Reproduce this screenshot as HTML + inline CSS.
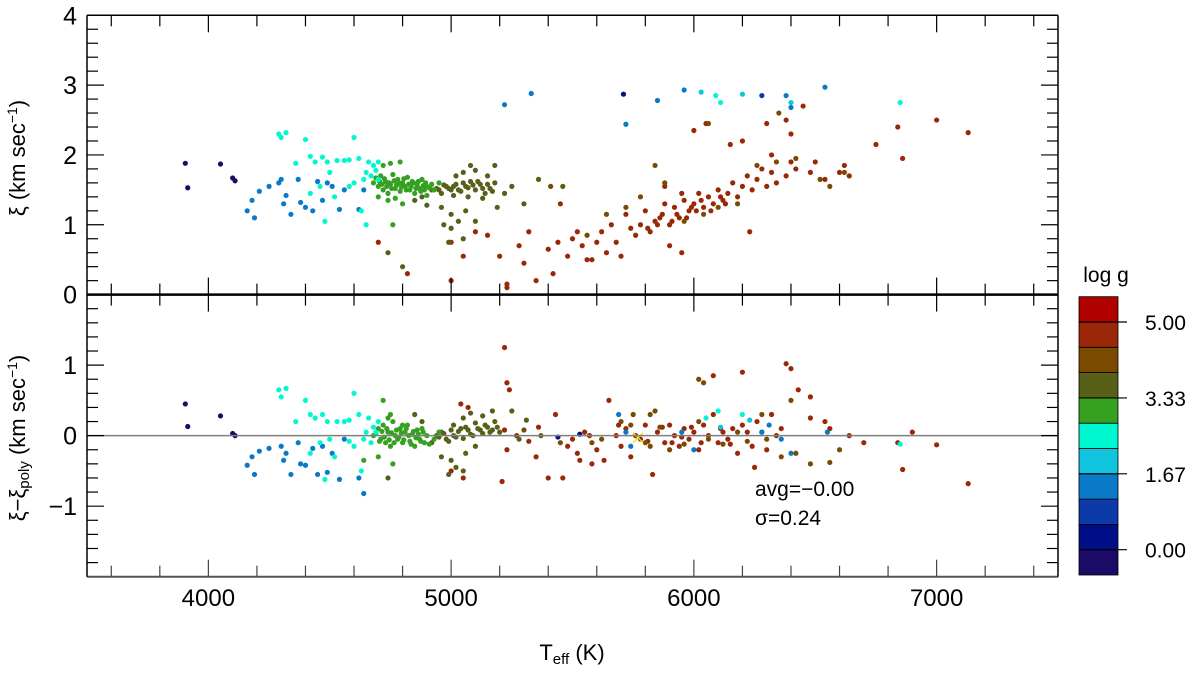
<!DOCTYPE html>
<html><head><meta charset="utf-8"><style>
body{margin:0;background:#fff;}
svg text{font-family:"Liberation Sans",Arial,sans-serif;fill:#000;}
</style></head><body>
<svg id="chart" width="1200" height="669" viewBox="0 0 1200 669" xmlns="http://www.w3.org/2000/svg">
<g id="marks"></g>
<g id="axes"></g>
</svg>
<script>
// ---- data (Teff, value) groups with log g ----
const xTicks = [4000, 5000, 6000, 7000];
const topYTicks = [0, 1, 2, 3, 4];
const botYTicks = [-1, 0, 1];
const cbTicks = ["5.00", "3.33", "1.67", "0.00"];
const cbValues = [5.0, 3.333, 1.667, 0.0];

const topNavy = [[3905,1.88],[3915,1.53],[4050,1.87],[4100,1.67],[4110,1.63]];
const topBlue = [[4160,1.2],[4180,1.35],[4190,1.1],[4210,1.48],[4250,1.55],[4290,1.6],[4300,1.65],[4310,1.3],[4320,1.42],[4340,1.15],[4370,1.65],[4380,1.32],[4400,1.25],[4430,1.2],[4450,1.62],[4470,1.35],[4490,1.6],[4510,1.55],[4540,1.22],[4560,1.5],[4640,1.5],[4620,1.22]];
const topCyan = [[4290,2.3],[4300,2.25],[4320,2.32],[4360,1.88],[4400,2.22],[4420,1.98],[4440,1.9],[4470,1.97],[4490,1.9],[4500,1.75],[4530,1.92],[4560,1.92],[4580,1.93],[4420,1.45],[4460,1.55],[4480,1.05],[4520,1.4],[4580,1.55],[4600,1.6],[4640,1.65],[4600,2.25],[4620,1.95],[4660,1.9],[4680,1.85],[4700,1.9],[4650,1.75],[4670,1.7],[4690,1.78],[4630,1.2],[4650,1.0],[4700,1.65]];
const topGreen = [[4680,1.6],[4700,1.55],[4710,1.7],[4720,1.5],[4730,1.62],[4740,1.45],[4750,1.58],[4760,1.72],[4770,1.52],[4780,1.65],[4790,1.48],[4800,1.6],[4810,1.55],[4820,1.68],[4830,1.5],[4840,1.62],[4850,1.45],[4860,1.58],[4870,1.52],[4880,1.65],[4890,1.5],[4900,1.55],[4720,1.85],[4750,1.88],[4790,1.9],[4700,1.4],[4740,1.35],[4770,1.38],[4800,1.3],[4760,1.0],[4930,1.5],[4950,1.6],[4900,1.42],[4690,1.67],[4705,1.62],[4715,1.58],[4725,1.66],[4735,1.55],[4745,1.6],[4755,1.52],[4765,1.63],[4775,1.57],[4785,1.6],[4795,1.54],[4805,1.66],[4815,1.5],[4825,1.58],[4835,1.55],[4845,1.6],[4855,1.52],[4865,1.62],[4875,1.48],[4885,1.56],[4895,1.6],[4910,1.53],[4920,1.58]];
const topOlive = [[4850,1.35],[4880,1.4],[4900,1.28],[4920,1.5],[4940,1.52],[4960,1.45],[4980,1.55],[5000,1.5],[5020,1.58],[5040,1.48],[5060,1.55],[5080,1.62],[5100,1.5],[5120,1.58],[5140,1.45],[5160,1.52],[5180,1.6],[5020,1.7],[5050,1.75],[5080,1.85],[5100,1.78],[5150,1.7],[5180,1.85],[4960,1.25],[5000,1.15],[5030,1.05],[5060,1.2],[5100,1.05],[5000,0.95],[4970,1.0],[4990,0.75],[5050,0.8],[5190,1.25],[5250,1.55],[5360,1.65],[5460,1.55],[5220,1.45],[5300,1.3],[4740,0.6],[4800,0.4],[4950,1.5],[4970,1.57],[4990,1.52],[5010,1.55],[5030,1.5],[5050,1.6],[5070,1.53],[5090,1.57],[5110,1.62],[5130,1.52],[5150,1.58],[5170,1.48],[5010,1.42],[5070,1.4],[5130,1.38]];
const topBrown = [[5720,1.25],[5780,1.4],[5840,1.85],[5880,1.6],[5960,1.05],[6040,1.15],[6100,1.25],[6180,1.3],[6260,1.85],[6340,1.9],[6420,1.95],[6520,1.65],[6560,1.55],[6620,1.75],[5640,1.15],[5560,0.85],[6060,2.45],[6350,2.6],[5410,1.55]];
const topRed = [[4700,0.75],[4820,0.3],[5000,0.2],[5000,0.75],[5050,0.55],[5100,0.9],[5150,0.85],[5200,0.55],[5230,0.1],[5230,0.15],[5280,0.7],[5300,0.45],[5320,0.9],[5350,0.2],[5400,0.65],[5420,0.3],[5440,0.75],[5450,1.3],[5480,0.55],[5500,0.8],[5520,0.9],[5540,0.7],[5560,0.5],[5580,0.5],[5600,0.75],[5620,0.9],[5640,0.6],[5660,1.0],[5680,0.75],[5700,0.55],[5720,1.15],[5740,0.95],[5760,0.85],[5780,1.0],[5800,1.2],[5820,0.9],[5840,1.05],[5860,1.1],[5880,1.3],[5900,1.0],[5920,1.25],[5940,1.1],[5960,1.35],[5980,1.2],[6000,1.3],[6020,1.45],[6040,1.25],[6060,1.4],[6080,1.3],[6100,1.5],[6120,1.35],[6140,1.45],[6160,1.6],[6180,1.4],[6200,1.55],[6220,1.7],[6240,1.5],[6260,1.65],[6280,1.8],[6300,1.55],[6320,1.75],[6340,1.6],[6380,1.7],[6400,1.9],[6420,1.8],[6480,1.75],[6500,1.9],[6540,1.65],[6600,1.75],[6620,1.85],[6640,1.7],[6000,2.35],[6050,2.45],[6200,2.2],[6380,2.5],[6450,2.7],[6400,2.3],[6300,2.45],[6320,2.0],[6150,2.15],[6840,2.4],[6860,1.95],[6750,2.15],[7000,2.5],[7130,2.32],[5950,1.45],[5880,1.55],[5900,0.7],[5950,0.6],[6230,0.9],[5810,0.95],[5850,1.0],[5870,1.15],[5910,1.05],[5930,1.15],[5970,1.1],[5990,1.25],[6010,1.2],[6030,1.35],[6070,1.2],[6110,1.4],[6130,1.3]];
const topGiants = [[5220,2.72],[5330,2.88],[5710,2.87],[5720,2.44],[5850,2.78],[5960,2.93],[6030,2.9],[6090,2.85],[6110,2.75],[6200,2.87],[6280,2.85],[6380,2.85],[6400,2.75],[6540,2.97],[6850,2.75],[6400,2.68]];
const topGiantsLogg = [1.2,1.2,0.3,1.4,1.5,1.2,1.9,2.4,2.4,1.9,0.8,1.4,1.9,1.5,2.4,1.5];

const botNavy = [[3905,0.45],[3915,0.13],[4050,0.28],[4100,0.03],[4110,0.0]];
const botBlue = [[4160,-0.42],[4180,-0.3],[4190,-0.55],[4210,-0.22],[4250,-0.18],[4300,-0.15],[4310,-0.35],[4320,-0.25],[4340,-0.55],[4370,-0.1],[4380,-0.4],[4400,-0.42],[4430,-0.18],[4450,-0.55],[4470,-0.15],[4490,-0.52],[4510,-0.25],[4540,-0.62],[4560,-0.05],[4620,-0.6],[4640,-0.82]];
const botCyan = [[4290,0.65],[4300,0.55],[4320,0.67],[4360,0.2],[4400,0.5],[4420,0.3],[4440,0.25],[4470,0.3],[4490,0.2],[4500,-0.05],[4530,0.2],[4560,0.2],[4580,0.22],[4600,0.6],[4620,0.3],[4660,0.25],[4680,0.12],[4700,0.2],[4650,0.05],[4670,-0.1],[4690,0.05],[4630,-0.5],[4480,-0.62],[4520,-0.3],[4580,-0.08],[4600,-0.15],[4640,-0.05],[4460,-0.1],[4420,-0.25]];
const botGreen = [[4680,0.0],[4700,0.1],[4710,-0.05],[4720,0.15],[4730,-0.1],[4740,0.05],[4750,-0.15],[4760,0.2],[4770,0.0],[4780,-0.05],[4790,0.1],[4800,-0.1],[4810,0.05],[4820,0.15],[4830,-0.08],[4840,0.02],[4850,-0.15],[4860,0.08],[4870,-0.05],[4880,0.1],[4890,-0.1],[4900,0.0],[4720,0.5],[4750,0.3],[4700,-0.3],[4760,-0.4],[4640,-0.35],[4930,-0.05],[4950,0.05],[4910,-0.12],[4740,0.25],[4800,0.15],[4690,0.03],[4705,-0.08],[4715,0.06],[4725,-0.02],[4735,0.1],[4745,-0.06],[4755,0.04],[4765,-0.1],[4775,0.08],[4785,-0.02],[4795,0.04],[4805,-0.06],[4815,0.1],[4825,0.0],[4835,-0.12],[4845,0.06],[4855,-0.03],[4865,0.02],[4875,-0.08],[4885,0.05]];
const botOlive = [[4850,0.3],[4880,0.2],[4920,-0.1],[4940,0.0],[4960,0.05],[4980,-0.05],[5000,0.08],[5020,-0.02],[5040,0.1],[5060,0.12],[5080,0.02],[5100,0.18],[5120,0.08],[5140,0.15],[5160,0.05],[5180,0.2],[5010,0.15],[5050,0.25],[5080,0.32],[5130,0.28],[5170,0.35],[4960,-0.3],[5000,-0.35],[5060,-0.25],[5100,-0.15],[5020,-0.45],[4990,-0.55],[5050,-0.5],[5200,0.05],[5250,0.35],[5310,0.22],[5370,0.0],[4740,-0.6],[5280,-0.05],[4950,-0.02],[4970,0.03],[4990,-0.08],[5010,0.0],[5030,0.06],[5050,-0.04],[5070,0.08],[5090,0.0],[5110,0.1],[5130,0.03],[5150,0.12],[5170,0.08],[5190,0.12]];
const botBrown = [[5580,-0.1],[5620,-0.05],[5700,0.2],[5740,0.15],[5800,-0.1],[5820,-0.15],[5860,0.12],[5900,-0.2],[5960,-0.12],[6020,0.2],[6060,-0.05],[6120,-0.12],[6180,0.05],[6220,-0.08],[6300,-0.05],[6360,-0.3],[6420,-0.25],[6480,-0.4],[6560,-0.38],[6600,-0.2],[6020,0.8],[6040,0.75],[6400,0.5],[6280,0.3],[5750,0.3],[5450,-0.1],[5300,0.08],[5820,0.3],[5840,0.35]];
const botRed = [[5040,0.45],[5070,0.4],[5000,-0.5],[5050,-0.6],[5220,1.25],[5230,0.75],[5240,0.65],[5220,0.08],[5230,-0.2],[5210,-0.65],[5270,0.0],[5320,-0.08],[5350,-0.3],[5360,0.12],[5400,-0.6],[5430,0.3],[5460,-0.6],[5480,-0.15],[5500,-0.05],[5520,-0.25],[5550,0.05],[5570,0.0],[5580,-0.4],[5600,-0.2],[5630,-0.35],[5650,0.5],[5680,0.0],[5700,-0.15],[5720,0.1],[5740,-0.3],[5760,0.0],[5780,-0.05],[5800,0.15],[5830,-0.55],[5850,0.05],[5880,-0.1],[5900,0.15],[5920,0.0],[5940,-0.15],[5960,0.1],[5980,-0.05],[6000,0.05],[6020,-0.2],[6040,0.15],[6060,0.0],[6080,0.3],[6100,-0.1],[6120,0.05],[6140,-0.05],[6160,0.1],[6180,-0.25],[6200,0.15],[6220,0.05],[6240,-0.15],[6260,0.2],[6280,0.05],[6300,-0.2],[6320,0.3],[6340,0.0],[6360,0.1],[6380,1.02],[6400,0.95],[6430,0.65],[6480,0.55],[6480,0.25],[6540,0.2],[6560,0.1],[6200,0.9],[6080,0.85],[6250,-0.45],[6640,0.0],[6700,-0.1],[6840,-0.1],[6860,-0.48],[7000,-0.13],[7130,-0.68],[6900,0.05],[5690,0.15],[5530,-0.35],[5810,-0.08],[5870,0.12],[5910,-0.1],[5950,-0.02],[5990,0.12],[6030,-0.1],[6110,0.1],[6150,-0.12]];
const botGiants = [[5440,-0.02],[5530,0.02],[5690,0.3],[5720,0.05],[5740,-0.15],[5950,0.05],[6000,-0.2],[6050,0.25],[6100,0.35],[6200,0.3],[6230,0.22],[6310,0.15],[6360,-0.05],[6400,-0.25],[6550,0.05],[6850,-0.12],[6280,0.05],[6110,0.12]];
const botGiantsLogg = [0.3,0.3,1.4,1.2,1.4,1.4,1.5,2.4,2.4,2.4,1.9,1.5,1.4,1.5,1.5,2.4,1.2,1.9];
const sunPoint = [5770, -0.03];

// ---- scales ----
const X0=87, X1=1058, TOP=15.3, MID=294.6, BOT=576.7;
const xs = t => X0 + (t-3500)/(4000)*(X1-X0);
const ysTop = v => MID - v/4*(MID-TOP);
const ysBot = v => MID + (2-v)/4*(BOT-MID);
const bandColors = ['#1c0a68','#000e88','#0c3aa8','#0a7ac8','#10c4de','#00f8d0','#36a020','#586018','#7a4a00','#9a2808','#b00000'];
const colorFor = g => bandColors[Math.max(0,Math.min(10,Math.floor(g/0.5556)+1))];

const NS='http://www.w3.org/2000/svg';
const marks=document.getElementById('marks');
const axes=document.getElementById('axes');
function mk(tag, attrs, parent){const e=document.createElementNS(NS,tag);for(const k in attrs)e.setAttribute(k,attrs[k]);parent.appendChild(e);return e;}

function plotGroup(arr, logg, ys, name){
  arr.forEach((p,i)=>{
    const g = Array.isArray(logg)?logg[i]:logg;
    const c = mk('circle',{cx:xs(p[0]),cy:ys(p[1]),r:2.6,fill:colorFor(g)},marks);
    
    
  });
}
plotGroup(topRed,4.8,ysTop,'top-dwarf');
plotGroup(topBrown,4.2,ysTop,'top-brown');
plotGroup(topOlive,3.6,ysTop,'top-olive');
plotGroup(topGreen,3.0,ysTop,'top-green');
plotGroup(topBlue,1.4,ysTop,'top-blue');
plotGroup(topCyan,2.4,ysTop,'top-cyan');
plotGroup(topNavy,-0.3,ysTop,'top-navy');
plotGroup(topGiants,topGiantsLogg,ysTop,'top-giant');

const zl = mk('line',{x1:X0,x2:X1,y1:ysBot(0),y2:ysBot(0),stroke:'#808080','stroke-width':1.5},axes);



plotGroup(botRed,4.8,ysBot,'bottom-dwarf');
plotGroup(botBrown,4.2,ysBot,'bottom-brown');
plotGroup(botOlive,3.6,ysBot,'bottom-olive');
plotGroup(botGreen,3.0,ysBot,'bottom-green');
plotGroup(botBlue,1.4,ysBot,'bottom-blue');
plotGroup(botCyan,2.4,ysBot,'bottom-cyan');
plotGroup(botNavy,-0.3,ysBot,'bottom-navy');
plotGroup(botGiants,botGiantsLogg,ysBot,'bottom-giant');
const sx=xs(sunPoint[0]), sy=ysBot(sunPoint[1]);
const sun=mk('path',{d:`M${sx-5},${sy-5}L${sx+5},${sy+5}M${sx-5},${sy+5}L${sx+5},${sy-5}`,stroke:'#f0e020','stroke-width':1.5},marks);



// ---- axes ----
function L(x1,y1,x2,y2,w,c){return mk('line',{x1,y1,x2,y2,stroke:c||'#000','stroke-width':w||1},axes);}
L(X0,TOP,X1,TOP,1.5);L(X0,BOT,X1,BOT,2,'#555');L(X0,TOP,X0,BOT,1.5);L(X1,TOP,X1,BOT,1.5);L(X0,MID,X1,MID,2.5);
for(let t=3600;t<=7400;t+=200){
  const x=xs(t), big=(t%1000===0), len=big?17:11;
  L(x,TOP,x,TOP+len,1.2);L(x,MID,x,MID-len,1.2);L(x,MID,x,MID+len,1.2);L(x,BOT,x,BOT-len,1.2,'#444');
}
for(let k=1;k<20;k++){const v=k*0.2, y=ysTop(v), big=(k%5===0), len=big?17:11; L(X0,y,X0+len,y,1.2);L(X1,y,X1-len,y,1.2);}
for(let k=-9;k<10;k++){const v=k*0.2, y=ysBot(v), big=(k%5===0), len=big?17:11; L(X0,y,X0+len,y,1.2);L(X1,y,X1-len,y,1.2);}
function T(x,y,s,size,anchor,name){const e=mk('text',{x,y,'font-size':size,'text-anchor':anchor||'middle'},axes);e.textContent=s;return e;}
xTicks.forEach(t=>T(xs(t),606,String(t),24,'middle','x-tick-label'));
topYTicks.forEach(v=>T(77,ysTop(v)+9,String(v),25,'end','top-y-tick-label'));
botYTicks.forEach(v=>T(77,ysBot(v)+9,v<0?'\u2212'+Math.abs(v):String(v),25,'end','bottom-y-tick-label'));
const xt=mk('text',{x:572,y:660,'font-size':22,'text-anchor':'middle'},axes);

xt.innerHTML='T<tspan font-size="15" dy="4">eff</tspan><tspan dy="-4"> (K)</tspan>';
const yt1=mk('text',{x:0,y:0,'font-size':22,'text-anchor':'middle',transform:'translate(25,158) rotate(-90)'},axes);

yt1.innerHTML='ξ (km sec<tspan font-size="14" dy="-8">−1</tspan><tspan dy="8">)</tspan>';
const yt2=mk('text',{x:0,y:0,'font-size':22,'text-anchor':'middle',transform:'translate(25,438) rotate(-90)'},axes);

yt2.innerHTML='ξ−ξ<tspan font-size="15" dy="4">poly</tspan><tspan dy="-4"> (km sec</tspan><tspan font-size="14" dy="-8">−1</tspan><tspan dy="8">)</tspan>';
T(755,496,'avg=\u22120.00',21,'start','avg-annotation');
T(755,525,'\u03c3=0.24',21,'start','sigma-annotation');
const CB0=296.7, CB1=575, cbx=1079, cbw=39, bh=(CB1-CB0)/11;
for(let i=0;i<11;i++){
  const r=mk('rect',{x:cbx,y:CB1-(i+1)*bh,width:cbw,height:bh,fill:bandColors[i],stroke:'#000','stroke-width':0.8},axes);
  
  
}
const cbY = g => CB1 - (g/0.5556+1)*bh;
cbValues.forEach((g,i)=>{const y=cbY(g);L(cbx,y,cbx+48,y,1.2);T(1145,y+8,cbTicks[i],21,'start','colorbar-tick-label');});
T(1106,282,'log g',21,'middle','colorbar-title');
</script>
</body></html>
